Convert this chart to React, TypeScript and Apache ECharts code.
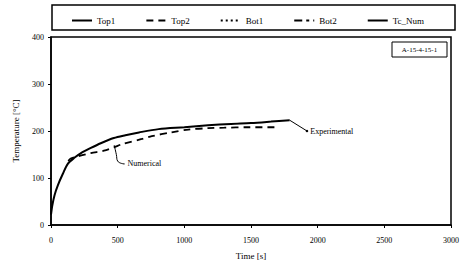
import React, { useEffect, useRef } from "react";
import * as echarts from "echarts";

const xTicks = [0, 500, 1000, 1500, 2000, 2500, 3000];
const yTicks = [0, 100, 200, 300, 400];

const expTime = [0, 10, 27, 52, 89, 126, 175, 225, 299, 373, 471, 558, 660, 807, 1000, 1178, 1350, 1500, 1650, 1790];
const expTemp = [22, 42, 64, 85, 109, 130, 143, 153, 164, 174, 185, 191, 197, 204, 208, 212, 215, 217, 220, 223];

const numTime = [130, 145, 200, 299, 397, 470, 533, 681, 756, 900, 1030, 1180, 1300, 1474, 1700];
const numTemp = [136, 141, 146, 153, 158, 165, 172, 183, 189, 197, 203, 206, 207, 208, 208];

const legendNames = ["Top1", "Top2", "Bot1", "Bot2", "Tc_Num"];

// annotation leaders (time, temperature)
const expLeaderTime = [1790, 1920];
const expLeaderTemp = [223, 200];
const numLeaderTime = [474, 490, 500, 548];
const numLeaderTemp = [170, 150, 136, 130];

const FONT = "Liberation Serif";

export default function App() {
  const ref = useRef<HTMLDivElement>(null);
  useEffect(() => {
    const chart = echarts.init(ref.current!, undefined, { renderer: "svg" });
    const expData = expTime.map((t, i) => [t, expTemp[i]]);
    const numData = numTime.map((t, i) => [t, numTemp[i]]);
    const expLeader = expLeaderTime.map((t, i) => [t, expLeaderTemp[i]]);
    const numLeader = numLeaderTime.map((t, i) => [t, numLeaderTemp[i]]);
    const labelStyle = { fontFamily: FONT, fontSize: 8, color: "#000" };
    chart.setOption({
      animation: false,
      backgroundColor: "#fff",
      textStyle: { fontFamily: FONT, color: "#000" },
      grid: {
        left: 51,
        right: 7,
        top: 37,
        bottom: 34,
        show: true,
        borderColor: "#000",
        borderWidth: 1.5,
      },
      graphic: [
        {
          type: "rect",
          shape: { x: 52, y: 5, width: 403, height: 25 },
          style: { fill: "none", stroke: "#000", lineWidth: 1.5 },
        },
        {
          type: "rect",
          shape: { x: 392, y: 42, width: 55, height: 15 },
          style: { fill: "#fff", stroke: "#000", lineWidth: 1 },
        },
        {
          type: "text",
          x: 419.5,
          y: 49.5,
          style: {
            text: "A-15-4-15-1",
            fontFamily: FONT,
            fontSize: 7,
            fill: "#000",
            align: "center",
            verticalAlign: "middle",
          },
        },
      ],
      legend: {
        data: legendNames,
        left: 66,
        top: 11,
        itemGap: 30,
        itemWidth: 20,
        itemHeight: 8,
        itemStyle: { opacity: 0 },
        textStyle: { fontFamily: FONT, fontSize: 9, color: "#000" },
      },
      xAxis: {
        type: "value",
        min: 0,
        max: 3000,
        interval: 500,
        name: "Time [s]",
        nameLocation: "middle",
        nameGap: 26,
        nameTextStyle: { fontFamily: FONT, fontSize: 9, color: "#000" },
        axisLine: { lineStyle: { color: "#000", width: 1.5 } },
        axisTick: { show: true, inside: false, length: 3, lineStyle: { color: "#000" } },
        axisLabel: {
          fontFamily: FONT,
          fontSize: 8,
          color: "#000",
          margin: 11,
          formatter: (v: number) => (xTicks.includes(v) ? String(v) : ""),
        },
        splitLine: { show: false },
      },
      yAxis: {
        type: "value",
        min: 0,
        max: 400,
        interval: 100,
        name: "Temperature [°C]",
        nameLocation: "middle",
        nameGap: 31,
        nameTextStyle: { fontFamily: FONT, fontSize: 9, color: "#000" },
        axisLine: { show: true, lineStyle: { color: "#000", width: 1.5 } },
        axisTick: { show: true, inside: false, length: 3, lineStyle: { color: "#000" } },
        axisLabel: {
          fontFamily: FONT,
          fontSize: 8,
          color: "#000",
          margin: 7,
          formatter: (v: number) => (yTicks.includes(v) ? String(v) : ""),
        },
        splitLine: { show: false },
      },
      series: [
        {
          name: "Top1",
          type: "line",
          data: expData,
          symbol: "none",
          smooth: 0.3,
          lineStyle: { color: "#000", width: 2, type: "solid" },
          itemStyle: { color: "#000" },
        },
        {
          name: "Top2",
          type: "line",
          data: numData,
          symbol: "none",
          smooth: 0.3,
          lineStyle: { color: "#000", width: 1.8, type: [7, 5] },
          itemStyle: { color: "#000" },
        },
        {
          name: "Bot1",
          type: "line",
          data: [],
          symbol: "none",
          lineStyle: { color: "#000", width: 2.2, type: [2, 3] },
          itemStyle: { color: "#000" },
        },
        {
          name: "Bot2",
          type: "line",
          data: [],
          symbol: "none",
          lineStyle: { color: "#000", width: 1.8, type: [8, 4, 3, 4] },
          itemStyle: { color: "#000" },
        },
        {
          name: "Tc_Num",
          type: "line",
          data: [],
          symbol: "none",
          lineStyle: { color: "#000", width: 2.2, type: "solid" },
          itemStyle: { color: "#000" },
        },
        {
          name: "expLeader",
          type: "line",
          data: expLeader.map((p, i) =>
            i === expLeader.length - 1
              ? {
                  value: p,
                  symbol: "circle",
                  symbolSize: 2.5,
                  label: {
                    show: true,
                    position: "right",
                    distance: 2,
                    formatter: "Experimental",
                    ...labelStyle,
                  },
                }
              : { value: p, symbol: "none" }
          ),
          lineStyle: { color: "#000", width: 1 },
          itemStyle: { color: "#000" },
          silent: true,
        },
        {
          name: "numLeader",
          type: "line",
          data: numLeader.map((p, i) =>
            i === numLeader.length - 1
              ? {
                  value: p,
                  symbol: "circle",
                  symbolSize: 1,
                  label: {
                    show: true,
                    position: "right",
                    distance: 3,
                    formatter: "Numerical",
                    ...labelStyle,
                  },
                }
              : { value: p, symbol: "none" }
          ),
          smooth: 0.5,
          lineStyle: { color: "#000", width: 1 },
          itemStyle: { color: "#000" },
          silent: true,
        },
      ],
    });
    return () => chart.dispose();
  }, []);
  return (
    <div
      ref={ref}
      style={{ position: "absolute", left: 0, top: 0, width: 462, height: 265 }}
    />
  );
}
